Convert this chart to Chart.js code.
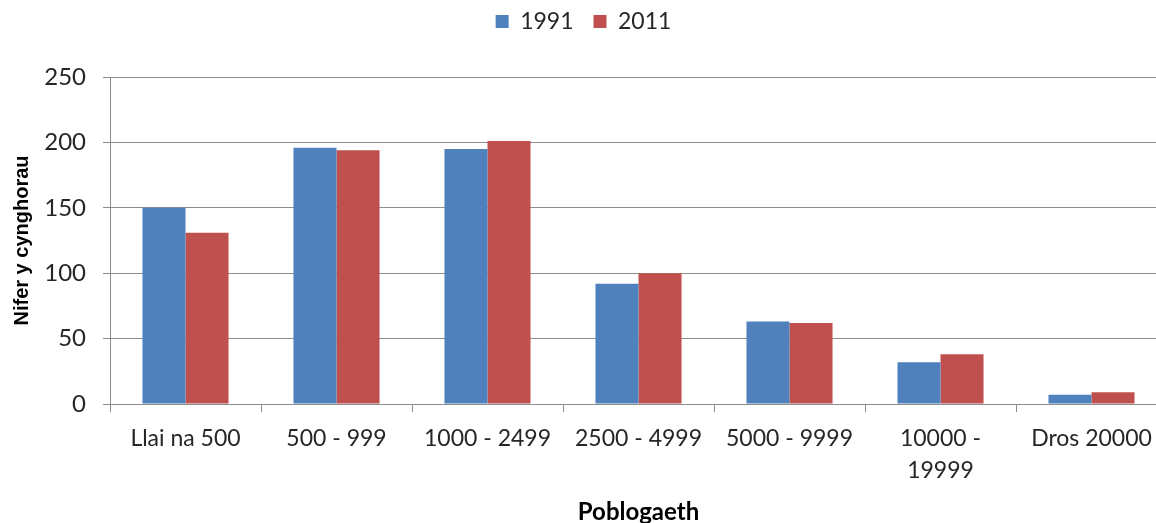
<!DOCTYPE html>
<html>
<head>
<meta charset="utf-8">
<script src="https://cdn.jsdelivr.net/npm/chart.js@4"></script>
<style>
  html, body { margin: 0; padding: 0; background: #fff; overflow: hidden; }
  #wrap { width: 1176px; height: 523px; }
</style>
</head>
<body>
<div id="wrap"><canvas id="chart" width="1176" height="523"></canvas></div>
<script>
// categories and values
const categories = ['Llai na 500', '500 - 999', '1000 - 2499', '2500 - 4999', '5000 - 9999', ['10000 -', '19999'], 'Dros 20000'];
const values1991 = [150, 196, 195, 92, 63, 32, 7];
const values2011 = [131, 194, 201, 100, 62, 38, 9];
const yTicks = [0, 50, 100, 150, 200, 250];

const Blue = '#4F81BD';
const Red = '#C0504D';
const GridColor = '#8C8C8C';
const TextColor = '#262626';
const FontName = 'Lato';

// make the legend take more room so the plot starts lower
const legendSpace = {
    id: 'legendSpace',
    beforeInit(chart) {
        const fit = chart.legend.fit;
        chart.legend.fit = function () {
            fit.call(this);
            this.height = 87;
        };
    }
};

const data = {
    labels: categories,
    datasets: [
        { label: '1991', data: values1991, backgroundColor: Blue },
        { label: '2011', data: values2011, backgroundColor: Red }
    ]
};

const options = {
    responsive: false,
    animation: false,
    layout: { padding: { top: -10, right: 9, left: 0, bottom: 0 } },
    datasets: { bar: { categoryPercentage: 0.57, barPercentage: 1.0 } },
    plugins: {
        tooltip: { enabled: false },
        legend: {
            position: 'top',
            labels: {
                boxWidth: 13, boxHeight: 13, padding: 20,
                color: TextColor,
                font: { family: FontName, size: 23 }
            }
        }
    },
    scales: {
        x: {
            grid: { display: true, drawOnChartArea: false, offset: true, color: GridColor, tickLength: 8 },
            border: { color: GridColor },
            ticks: { color: TextColor, padding: 10, maxRotation: 0, autoSkip: false,
                     font: { family: FontName, size: 23, lineHeight: 1.4 } },
            title: { display: true, text: 'Poblogaeth', color: '#000',
                     font: { family: FontName, size: 24, weight: 'bold', lineHeight: 1 },
                     padding: { top: 19, bottom: -1 } },
            afterFit: function (s) { s.height = 119; }
        },
        y: {
            min: 0, max: 250,
            afterBuildTicks: function (s) { s.ticks = yTicks.map(v => ({ value: v })); },
            grid: { color: GridColor, tickLength: 7 },
            border: { color: GridColor },
            ticks: { color: TextColor, padding: 17, font: { family: FontName, size: 24 } },
            title: { display: true, text: 'Nifer y cynghorau', color: '#000',
                     font: { family: 'Liberation Sans', size: 20, weight: 'bold' }, padding: { top: 10, bottom: 0 } },
            afterFit: function (s) { s.width = 110; }
        }
    }
};

new Chart(document.getElementById('chart'), { type: 'bar', data: data, options: options, plugins: [legendSpace] });
</script>
</body>
</html>
